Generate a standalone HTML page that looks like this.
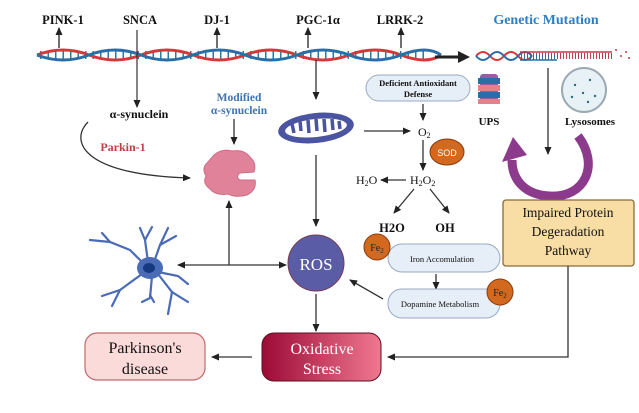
<!DOCTYPE html>
<html><head><meta charset="utf-8"><style>
html,body{margin:0;padding:0;background:#fff;}
svg{display:block;font-family:"Liberation Serif",serif;}
</style></head><body>
<svg width="639" height="413" viewBox="0 0 639 413" xmlns="http://www.w3.org/2000/svg">
<defs>
<marker id="a" markerWidth="8" markerHeight="8" refX="7" refY="4" orient="auto" markerUnits="userSpaceOnUse"><path d="M0,0.5 L8,4 L0,7.5 Z" fill="#222"/></marker>
<linearGradient id="os" x1="0" x2="1" y1="0" y2="0"><stop offset="0" stop-color="#9c0a36"/><stop offset="1" stop-color="#f07890"/></linearGradient>
</defs>

<!-- top labels -->
<g font-weight="bold" font-size="12.5" fill="#111" text-anchor="middle">
<text x="63" y="24">PINK-1</text><text x="140" y="24">SNCA</text><text x="217" y="24">DJ-1</text><text x="318" y="24">PGC-1α</text><text x="400" y="24">LRRK-2</text>
</g>
<text x="546" y="24" font-size="14" font-weight="bold" fill="#2f7fc4" text-anchor="middle">Genetic Mutation</text>

<!-- up arrows -->
<g stroke="#333" stroke-width="1.4" marker-end="url(#a)">
<line x1="59" y1="48" x2="59" y2="28"/><line x1="217" y1="48" x2="217" y2="28"/><line x1="308" y1="48" x2="308" y2="28"/><line x1="401" y1="48" x2="401" y2="28"/>
</g>

<!-- DNA -->
<line x1="40" y1="55" x2="424" y2="55" stroke="#2a7aa8" stroke-width="8" stroke-dasharray="1.5 6"/>
<path d="M37 55 q26 -10 52 0 t52 0 t52 0 t52 0 t52 0 t52 0 t52 0 t40 0" fill="none" stroke="#d23a3a" stroke-width="3"/>
<path d="M37 55 q26 10 52 0 t52 0 t52 0 t52 0 t52 0 t52 0 t52 0 t40 0" fill="none" stroke="#2a6ea8" stroke-width="3"/>

<!-- big arrow -->
<line x1="435" y1="57" x2="460" y2="57" stroke="#222" stroke-width="3"/>
<path d="M458 51 L470 57 L458 63 Z" fill="#222"/>

<!-- right DNA -->
<path d="M476 56 q7 -8 14 0 t14 0 t14 0 t14 0" fill="none" stroke="#d23a3a" stroke-width="2"/>
<path d="M476 56 q7 8 14 0 t14 0 t14 0 t14 0" fill="none" stroke="#2a6ea8" stroke-width="2"/>
<line x1="520" y1="52" x2="612" y2="52" stroke="#c0394a" stroke-width="1.5"/>
<line x1="521" y1="56" x2="612" y2="56" stroke="#c0394a" stroke-width="6" stroke-dasharray="1 2"/>
<line x1="520" y1="60" x2="557" y2="60" stroke="#2a6ea8" stroke-width="1.5"/>
<line x1="521" y1="57" x2="557" y2="57" stroke="#2a6ea8" stroke-width="5" stroke-dasharray="1 2"/>
<g fill="#c0394a"><circle cx="616" cy="50" r="1"/><circle cx="621" cy="56" r="1"/><circle cx="626" cy="52" r="1"/><circle cx="629" cy="58" r="1"/></g>

<!-- SNCA line -->
<line x1="137" y1="30" x2="137" y2="107" stroke="#333" stroke-width="1.2" marker-end="url(#a)"/>
<text x="139" y="118" font-size="12" font-weight="bold" text-anchor="middle" fill="#111">α-synuclein</text>
<path d="M88 122 C70 140 80 175 190 178" fill="none" stroke="#333" stroke-width="1.3" marker-end="url(#a)"/>
<text x="123" y="151" font-size="12" font-weight="bold" fill="#c04048" text-anchor="middle">Parkin-1</text>

<text x="239" y="101" font-size="11.5" font-weight="bold" fill="#3f74b0" text-anchor="middle">Modified</text>
<text x="239" y="114" font-size="11.5" font-weight="bold" fill="#3f74b0" text-anchor="middle">α-synuclein</text>
<line x1="234" y1="119" x2="234" y2="144" stroke="#333" stroke-width="1.3" marker-end="url(#a)"/>

<!-- protein blob -->
<path d="M214 155 Q222 148 232 151 Q244 149 250 157 Q257 163 254 172 L240 173 Q235 177 240 180 L255 180 Q257 190 247 195 Q236 198 228 194 Q216 196 210 189 Q202 183 206 176 Q201 168 208 162 Z" fill="#e08299" stroke="#d06d86" stroke-width="1"/>

<!-- mitochondrion -->
<line x1="316" y1="60" x2="316" y2="99" stroke="#333" stroke-width="1.3" marker-end="url(#a)"/>
<ellipse cx="316" cy="128" rx="38" ry="15" fill="#4a54a0" transform="rotate(-6 316 128)"/>
<ellipse cx="316" cy="128" rx="31" ry="9" fill="#fff" transform="rotate(-6 316 128)"/>
<g stroke="#4a54a0" stroke-width="3.5">
<line x1="292" y1="124" x2="294" y2="133"/><line x1="300" y1="121" x2="301" y2="131"/><line x1="308" y1="120" x2="309" y2="133"/><line x1="316" y1="119" x2="317" y2="131"/><line x1="324" y1="119" x2="325" y2="132"/><line x1="332" y1="119" x2="333" y2="130"/><line x1="339" y1="121" x2="340" y2="129"/>
</g>
<line x1="316" y1="155" x2="316" y2="226" stroke="#333" stroke-width="1.3" marker-end="url(#a)"/>

<!-- ROS -->
<circle cx="316" cy="263" r="28" fill="#5b5ca6" stroke="#7a3a50" stroke-width="1"/>
<text x="316" y="270" font-size="17" fill="#fff" text-anchor="middle">ROS</text>

<!-- neuron -->
<g stroke="#4a6bb5" stroke-width="2.2" fill="none" stroke-linecap="round">
<path d="M148 268 L130 250 L110 242 L90 240"/><path d="M110 242 L102 233"/>
<path d="M148 262 L145 240 L140 228"/><path d="M145 240 L152 227"/>
<path d="M154 262 L160 245 L168 228"/><path d="M160 245 L176 236"/>
<path d="M158 272 L178 276 L188 284"/>
<path d="M152 276 L150 298 L142 302"/><path d="M150 295 L154 302"/>
<path d="M158 274 L172 292 L188 302"/><path d="M172 292 L168 314"/>
<path d="M142 274 L120 290 L102 296"/><path d="M120 290 L112 306"/>
</g>
<ellipse cx="150" cy="268" rx="13" ry="11" fill="#4a6bb5"/>
<ellipse cx="149" cy="268" rx="6" ry="5" fill="#153a80"/>

<!-- arrows around ROS -->
<line x1="229" y1="265" x2="178" y2="265" stroke="#333" stroke-width="1.3" marker-end="url(#a)"/>
<line x1="229" y1="265" x2="286" y2="265" stroke="#333" stroke-width="1.3" marker-end="url(#a)"/>
<line x1="229" y1="265" x2="229" y2="201" stroke="#333" stroke-width="1.3" marker-end="url(#a)"/>
<line x1="316" y1="294" x2="316" y2="331" stroke="#333" stroke-width="1.3" marker-end="url(#a)"/>

<!-- Deficient antioxidant -->
<rect x="366" y="75" width="104" height="26" rx="13" fill="#e6eef8" stroke="#98aac4"/>
<text x="418" y="86" font-size="8.5" font-weight="bold" text-anchor="middle" fill="#111">Deficient Antioxidant</text>
<text x="418" y="97" font-size="8.5" font-weight="bold" text-anchor="middle" fill="#111">Defense</text>
<line x1="423" y1="104" x2="423" y2="120" stroke="#333" stroke-width="1.3" marker-end="url(#a)"/>
<line x1="364" y1="131" x2="410" y2="131" stroke="#333" stroke-width="1.3" marker-end="url(#a)"/>
<text x="418" y="136" font-size="12" fill="#111">O<tspan font-size="8" dy="2">2</tspan></text>
<line x1="423" y1="140" x2="423" y2="170" stroke="#333" stroke-width="1.3" marker-end="url(#a)"/>
<ellipse cx="447" cy="152" rx="17" ry="13" fill="#d2691e" stroke="#8a3a10"/>
<text x="447" y="156" font-size="9" fill="#fff" text-anchor="middle" font-family="Liberation Sans,sans-serif">SOD</text>
<text x="410" y="184" font-size="12" fill="#111">H<tspan font-size="8" dy="2">2</tspan><tspan dy="-2">O</tspan><tspan font-size="8" dy="2">2</tspan></text>
<line x1="406" y1="180" x2="381" y2="180" stroke="#333" stroke-width="1.3" marker-end="url(#a)"/>
<text x="356" y="184" font-size="12" fill="#111">H<tspan font-size="8" dy="2">2</tspan><tspan dy="-2">O</tspan></text>
<line x1="414" y1="189" x2="394" y2="213" stroke="#333" stroke-width="1.3" marker-end="url(#a)"/>
<line x1="430" y1="189" x2="449" y2="213" stroke="#333" stroke-width="1.3" marker-end="url(#a)"/>
<text x="392" y="232" font-size="12.5" font-weight="bold" text-anchor="middle" fill="#111">H2O</text>
<text x="445" y="232" font-size="12.5" font-weight="bold" text-anchor="middle" fill="#111">OH</text>

<rect x="388" y="244" width="112" height="28" rx="14" fill="#e6eef8" stroke="#98aac4"/>
<text x="442" y="262" font-size="8.5" text-anchor="middle" fill="#111">Iron Accomulation</text>
<circle cx="377" cy="247" r="13" fill="#d2691e" stroke="#8a3a10"/>
<text x="377" y="251" font-size="10" fill="#222" text-anchor="middle">Fe<tspan font-size="7" dy="2">2</tspan></text>
<line x1="436" y1="274" x2="436" y2="289" stroke="#333" stroke-width="1.3" marker-end="url(#a)"/>
<rect x="388" y="289" width="112" height="29" rx="14" fill="#e6eef8" stroke="#98aac4"/>
<text x="440" y="307" font-size="8.5" text-anchor="middle" fill="#111">Dopamine Metabolism</text>
<circle cx="500" cy="292" r="13" fill="#d2691e" stroke="#8a3a10"/>
<text x="500" y="296" font-size="10" fill="#222" text-anchor="middle">Fe<tspan font-size="7" dy="2">2</tspan></text>
<line x1="383" y1="299" x2="350" y2="280" stroke="#333" stroke-width="1.3" marker-end="url(#a)"/>

<!-- UPS / Lysosomes -->
<rect x="480" y="74" width="18" height="30" rx="3" fill="#9a5aa8"/>
<rect x="478" y="78" width="22" height="6" fill="#2a6ea8"/><rect x="478" y="85" width="22" height="6" fill="#e8808a"/><rect x="478" y="92" width="22" height="6" fill="#2a6ea8"/><rect x="478" y="99" width="22" height="5" fill="#e8808a"/>
<text x="489" y="125" font-size="11" font-weight="bold" text-anchor="middle" fill="#111">UPS</text>
<circle cx="584" cy="90" r="22" fill="#e8f2f6" stroke="#9aaab4" stroke-width="2"/>
<g fill="#2a6e7a"><circle cx="575" cy="85" r="1.2"/><circle cx="590" cy="80" r="1.2"/><circle cx="583" cy="93" r="1.2"/><circle cx="595" cy="96" r="1.2"/><circle cx="572" cy="97" r="1.2"/><circle cx="588" cy="102" r="1.2"/></g>
<text x="590" y="125" font-size="11" font-weight="bold" text-anchor="middle" fill="#111">Lysosomes</text>

<line x1="548" y1="68" x2="548" y2="154" stroke="#333" stroke-width="1.3" marker-end="url(#a)"/>
<path d="M578 136 C600 165 585 198 550 196 C525 195 512 180 512 160" fill="none" stroke="#8c3a8c" stroke-width="9"/>
<path d="M502 162 L513 137 L527 155 Z" fill="#8c3a8c"/>

<!-- Impaired box -->
<rect x="503" y="200" width="131" height="66" rx="3" fill="#f8dda4" stroke="#8a6a3a" stroke-width="1.3"/>
<g font-size="13.5" text-anchor="middle" fill="#111">
<text x="568" y="217">Impaired Protein</text><text x="568" y="236">Degeradation</text><text x="568" y="255">Pathway</text></g>
<polyline points="568,266 568,357 388,357" fill="none" stroke="#333" stroke-width="1.3" marker-end="url(#a)"/>

<!-- Oxidative stress -->
<rect x="262" y="333" width="119" height="48" rx="12" fill="url(#os)" stroke="#5a1020"/>
<text x="322" y="354" font-size="16" fill="#fff" text-anchor="middle">Oxidative</text>
<text x="322" y="374" font-size="16" fill="#fff" text-anchor="middle">Stress</text>
<line x1="252" y1="357" x2="212" y2="357" stroke="#333" stroke-width="1.3" marker-end="url(#a)"/>

<!-- Parkinson's -->
<rect x="85" y="333" width="120" height="47" rx="12" fill="#fbdada" stroke="#c06a6a" stroke-width="1.2"/>
<text x="145" y="353" font-size="16" text-anchor="middle" fill="#111">Parkinson's</text>
<text x="145" y="374" font-size="16" text-anchor="middle" fill="#111">disease</text>
</svg>
</body></html>
